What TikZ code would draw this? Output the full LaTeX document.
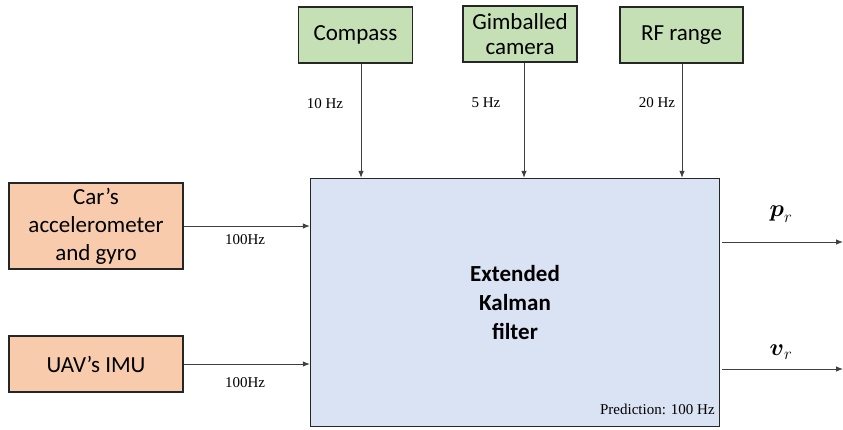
\RequirePackage{fix-cm}
\documentclass[tikz,border=0pt]{standalone}
\usepackage{amsmath,amssymb}
\usepackage{fontspec}
\setmainfont{Liberation Serif}
\newfontfamily\boxfont{Carlito}
\newcommand{\vc}[1]{\ensuremath{\boldsymbol{#1}}}
\usepackage{tikz}
\usetikzlibrary{arrows.meta}

\definecolor{sensgreen}{RGB}{197,224,180}
\definecolor{inorange}{RGB}{248,203,173}
\definecolor{ekfblue}{RGB}{218,227,243}

\begin{document}
\begin{tikzpicture}[x=1pt,y=-1pt
	,>={Latex[length=7pt,width=5.5pt]}
	,semithick]
  \tikzstyle{block}
  =[draw=black!85,line width=1.4pt,align=center,inner sep=2pt,
    font=\boxfont\fontsize{23}{28}\selectfont]
  \tikzstyle{sensor}=[block,fill=sensgreen,minimum height=56pt]
  \tikzstyle{input}=[block,fill=inorange,minimum width=174pt]
  \tikzstyle{rate}=[font=\fontsize{15}{18}\selectfont,inner sep=0pt]
  \tikzstyle{link}=[->,draw=black!75,line width=0.8pt]

  \useasboundingbox (0,0) rectangle (843,429);

  % filter
  \node[block,fill=ekfblue,minimum width=409pt,minimum height=248pt,
        font=\boxfont\bfseries\fontsize{23}{29}\selectfont]
        (ekf) at (515,302.5) {Extended\\Kalman\\filter};
  \node[rate,anchor=base east] (pred) at (715,414) {Prediction: 100 Hz};

  % 3 sensors
  \node[sensor,minimum width=114pt] (comp) at (355.5,35) {Compass};
  \node[sensor,minimum width=114pt] (cam)  at (520,34)   {Gimballed\\[-3pt]camera};
  \node[sensor,minimum width=123pt] (rf)   at (681.5,35) {RF range};

  % 2 inputs
  \node[input,minimum height=86pt] (car) at (96,226) {Car’s\\accelerometer\\and gyro};
  \node[input,minimum height=56pt] (uav) at (96,364) {UAV’s IMU};

  % outputs
  \coordinate (pr) at (843,242);
  \coordinate (vr) at (843,369);

  % sensor arrows
  \draw [link] ([xshift=5.5pt]comp.south) -- ([xshift=5.5pt]comp.south |- ekf.north);
  \draw [link] ([xshift=4pt]cam.south)    -- ([xshift=4pt]cam.south |- ekf.north);
  \draw [link] ([xshift=0.5pt]rf.south)   -- ([xshift=0.5pt]rf.south |- ekf.north);
  \node[rate] (f1) at (325,104) {10 Hz};
  \node[rate] (f2) at (486,103) {5 Hz};
  \node[rate] (f3) at (657,103) {20 Hz};

  % input arrows
  \draw [link] (car.east) -- (car.east -| ekf.west);
  \draw [link] (uav.east) -- (uav.east -| ekf.west);
  \node[rate] (f4) at (245,240) {100Hz};
  \node[rate] (f5) at (245,383) {100Hz};

  % output arrows
  \draw [link] ([xshift=2pt]ekf.east |- pr) -- (pr);
  \draw [link] ([xshift=2pt]ekf.east |- vr) -- (vr);
  \node[font=\fontsize{24}{28}\selectfont] (lpr) at (781,214) {$\vc{p}_r$};
  \node[font=\fontsize{24}{28}\selectfont] (lvr) at (781,352) {$\vc{v}_r$};
\end{tikzpicture}
\end{document}
